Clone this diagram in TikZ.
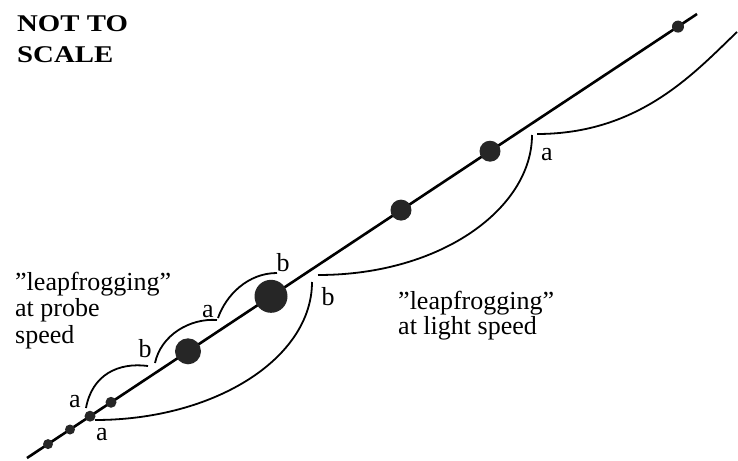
\documentclass[tikz,border=0pt]{standalone}
\usepackage{fontspec}
\setmainfont{Liberation Serif}
\newfontfamily\ntsfont{Liberation Serif}[FakeStretch=1.2]
\begin{document}
\begin{tikzpicture}[x=1pt,y=-1pt,
  dot/.style={circle,fill=black!85,draw=none,inner sep=0pt,minimum size=#1},
  curve/.style={line width=1.8pt},
  lbl/.style={font=\fontsize{26}{26}\selectfont,inner sep=0pt,anchor=base},
  txt/.style={inner sep=0pt,anchor=base west,align=left}]
\useasboundingbox (0,0) rectangle (738,460);
% main line
\coordinate (L0) at (27,458);
\coordinate (L1) at (697,14);
\draw[line width=2.6pt] (L0) -- (L1);
% light-speed leapfrog curves
\coordinate (c1s) at (95,420);
\coordinate (c1e) at (312,282);
\coordinate (c2s) at (318,275);
\coordinate (c2e) at (532,135);
\coordinate (c3s) at (537,134);
\coordinate (c3e) at (737,32);
\draw[curve] (c1s) .. controls +(120,0) and +(0,76) .. (c1e);
\draw[curve] (c2s) .. controls +(125,0) and +(0,72) .. (c2e);
\draw[curve] (c3s) .. controls +(103,0) and +(-42,40) .. (c3e);
% probe-speed leapfrog arcs
\coordinate (a1s) at (86,408);
\coordinate (a1e) at (148,366);
\coordinate (a2s) at (155,363);
\coordinate (a2e) at (217,320);
\coordinate (a3s) at (218,318);
\coordinate (a3e) at (277,273);
\draw[curve] (a1s) .. controls +(6,-33) and +(-30,-4) .. (a1e);
\draw[curve] (a2s) .. controls +(6,-28) and +(-27,-2) .. (a2e);
\draw[curve] (a3s) .. controls +(8,-23) and +(-29,0) .. (a3e);
% dots on the line
\node[dot=10pt] (d1) at (48,444.1) {};
\node[dot=10pt] (d2) at (70,429.5) {};
\node[dot=11pt] (d3) at (90,416.2) {};
\node[dot=11pt] (d4) at (111,402.3) {};
\node[dot=26pt] (d5) at (188,351.3) {};
\node[dot=33pt] (d6) at (271,296.3) {};
\node[dot=21pt] (d7) at (401,210.1) {};
\node[dot=21pt] (d8) at (490,151.2) {};
\node[dot=12pt] (d9) at (678,26.6) {};
% labels
\node[lbl] (la1) at (75,407) {a};
\node[lbl] (la2) at (102,440) {a};
\node[lbl] (lb1) at (145,357) {b};
\node[lbl] (la3) at (208,317) {a};
\node[lbl] (lb2) at (283,271) {b};
\node[lbl] (lb3) at (328,305) {b};
\node[lbl] (la4) at (547,160) {a};
% texts (anchor = baseline of last line)
\node[txt,font=\ntsfont\bfseries\fontsize{24}{31}\selectfont] (nts) at (17,63) {NOT TO\\SCALE};
\node[txt,font=\fontsize{26}{26.5}\selectfont] (probe) at (15,343) {"leapfrogging"\\at probe\\speed};
\node[txt,font=\fontsize{26}{25}\selectfont] (light) at (398,334) {"leapfrogging"\\at light speed};
\end{tikzpicture}
\end{document}
